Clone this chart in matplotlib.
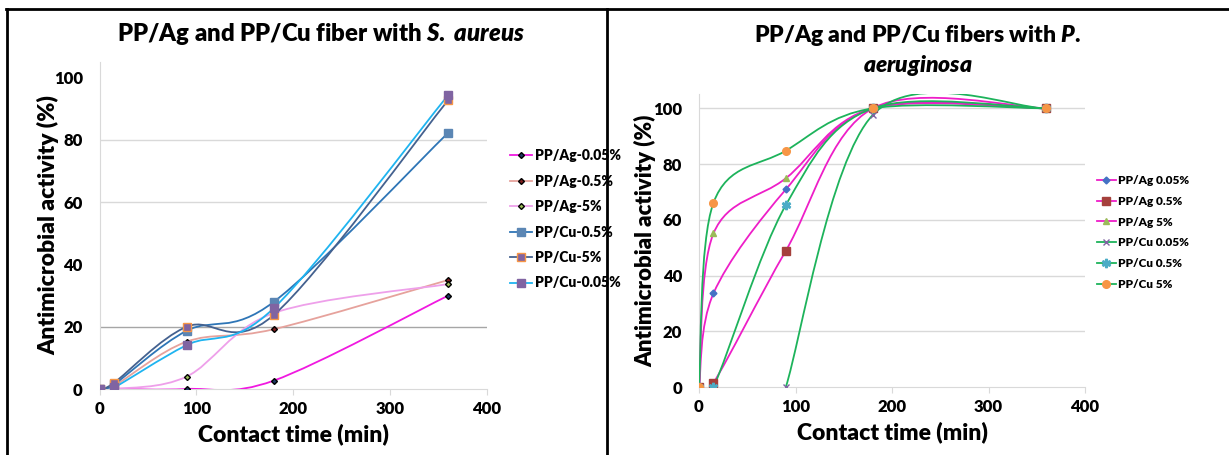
import matplotlib
matplotlib.use("Agg")
import matplotlib.pyplot as plt
import numpy as np
from matplotlib.path import Path
from matplotlib.patches import PathPatch, Rectangle
from matplotlib.lines import Line2D

plt.rcParams['font.family'] = ['Lato', 'DejaVu Sans']
plt.rcParams['font.weight'] = 'heavy'
plt.rcParams['axes.labelweight'] = 'heavy'
plt.rcParams['mathtext.fontset'] = 'custom'
plt.rcParams['mathtext.it'] = 'Lato:italic:heavy'
plt.rcParams['mathtext.rm'] = 'Lato:heavy'

# contact times (min)
times = [0, 15, 90, 180, 360]

# S. aureus
sa_labels = ['PP/Ag-0.05%', 'PP/Ag-0.5%', 'PP/Ag-5%', 'PP/Cu-0.5%', 'PP/Cu-5%', 'PP/Cu-0.05%']
sa_ag005 = [0, 0, 0, 2.7, 30]
sa_ag05 = [0, 1, 15.2, 19.2, 35]
sa_ag5 = [0, 0, 4, 24.4, 33.7]
sa_cu05 = [0, 1.5, 18.7, 28, 82.3]
sa_cu5 = [0, 2, 20, 23.8, 92.8]
sa_cu005 = [0, 0.5, 14.1, 26, 94.4]

# P. aeruginosa
pa_labels = ['PP/Ag 0.05%', 'PP/Ag 0.5%', 'PP/Ag 5%', 'PP/Cu 0.05%', 'PP/Cu 0.5%', 'PP/Cu 5%']
pa_ag005 = [0, 33.6, 70.9, 100, 100]
pa_ag05 = [0, 1.5, 48.9, 100, 100]
pa_ag5 = [0, 55.1, 74.9, 100, 100]
pa_cu005_t = [90, 180, 360]
pa_cu005 = [0, 97.6, 100]
pa_cu05 = [0, 0, 65.3, 100, 100]
pa_cu5 = [0, 66.1, 84.8, 100, 100]

W, H = 1229, 455


def smooth_path(x, y):
    # excel-style smoothed line: bezier segments, control points at 1/6 of neighbour span
    p = np.column_stack([x, y]).astype(float)
    verts = [p[0]]
    codes = [Path.MOVETO]
    n = len(p)
    for i in range(n - 1):
        p0 = p[i - 1] if i > 0 else p[i]
        p1 = p[i]
        p2 = p[i + 1]
        p3 = p[i + 2] if i + 2 < n else p[i + 1]
        verts += [p1 + (p2 - p0) / 6, p2 - (p3 - p1) / 6, p2]
        codes += [Path.CURVE4] * 3
    return Path(verts, codes)


def draw_series(ax, x, y, color, marker, mfc, mec, ms, label, lw=1.3):
    ax.add_patch(PathPatch(smooth_path(x, y), fill=False, edgecolor=color, lw=lw, zorder=3))
    ax.plot(x, y, ls='none', marker=marker, mfc=mfc, mec=mec, ms=ms, zorder=4)
    return Line2D([], [], color=color, lw=lw, marker=marker, mfc=mfc, mec=mec, ms=ms, label=label)


def style_axes(ax, grid_vals, grid_cols):
    ax.set_xlim(0, 400)
    ax.set_ylim(0, 105)
    ax.set_xticks([0, 100, 200, 300, 400])
    ax.set_yticks([0, 20, 40, 60, 80, 100])
    for s in ['top', 'right']:
        ax.spines[s].set_visible(False)
    ax.spines['left'].set_color('#D9D9D9')
    ax.spines['bottom'].set_color('#D9D9D9')
    for v, c in zip(grid_vals, grid_cols):
        ax.axhline(v, color=c, lw=1, zorder=1)
    ax.tick_params(axis='x', length=4, color='#D9D9D9', labelsize=12, pad=5)
    ax.tick_params(axis='y', length=0, labelsize=12, pad=12)
    ax.set_xlabel('Contact time (min)', fontsize=16.5, labelpad=4)


fig = plt.figure(figsize=(W / 100, H / 100), dpi=100)

# left panel
ax1 = fig.add_axes([99.5 / W, 66 / H, 387.5 / W, 327 / H])
style_axes(ax1, [20, 60, 80, 100], ['#A6A6A6', '#D9D9D9', '#D9D9D9', '#FFFFFF'])
ax1.set_ylabel('Antimicrobial activity (%)', fontsize=16.5, labelpad=-4)
h1 = []
h1.append(draw_series(ax1, times, sa_ag005, '#F019E0', 'D', '#1F3864', '#000000', 3, sa_labels[0]))
h1.append(draw_series(ax1, times, sa_ag05, '#E6A29C', 'D', '#7F1F1F', '#000000', 3, sa_labels[1]))
h1.append(draw_series(ax1, times, sa_ag5, '#EEA0EA', 'D', '#9BBB59', '#000000', 3, sa_labels[2]))
h1.append(draw_series(ax1, times, sa_cu05, '#2E75B6', 's', '#5B86B4', '#5B86B4', 6, sa_labels[3]))
h1.append(draw_series(ax1, times, sa_cu5, '#44618F', 's', '#8064A2', '#F79646', 6, sa_labels[4]))
h1.append(draw_series(ax1, times, sa_cu005, '#1FB4F0', 's', '#8064A2', '#8064A2', 6, sa_labels[5]))
fig.text(321 / W, 1 - 34 / H, r'PP/Ag and PP/Cu fiber with $\it{S.}$ $\it{aureus}$', ha='center', va='center',
         fontsize=17.2)
fig.legend(handles=h1, loc='upper left', bbox_to_anchor=(510 / W, 1 - 149 / H), frameon=False,
           fontsize=10, handlelength=1.6, handletextpad=0.2, labelspacing=0.9, borderpad=0, borderaxespad=0)

# right panel
ax2 = fig.add_axes([699 / W, 68 / H, 386 / W, 292.6 / H])
style_axes(ax2, [20, 40, 60, 80, 100], ['#D9D9D9'] * 5)
ax2.set_ylabel('Antimicrobial activity (%)', fontsize=16, labelpad=-2)
h2 = []
mag = '#EE1EC8'
grn = '#1DB35B'
h2.append(draw_series(ax2, times, pa_ag005, mag, 'D', '#4472C4', '#4472C4', 3.5, pa_labels[0]))
h2.append(draw_series(ax2, times, pa_ag05, mag, 's', '#A5403C', '#A5403C', 5.5, pa_labels[1]))
h2.append(draw_series(ax2, times, pa_ag5, mag, '^', '#9BBB59', '#9BBB59', 5, pa_labels[2]))
h2.append(draw_series(ax2, pa_cu005_t, pa_cu005, grn, 'x', '#8064A2', '#8064A2', 5, pa_labels[3]))
h2.append(draw_series(ax2, times, pa_cu05, grn, '$*$', '#4BACC6', '#4BACC6', 6, pa_labels[4]))
h2.append(draw_series(ax2, times, pa_cu5, grn, 'o', '#F79646', '#F79646', 5.5, pa_labels[5]))
fig.text(918 / W, 1 - 35 / H, r'PP/Ag and PP/Cu fibers with $\it{P.}$', ha='center', va='center', fontsize=16.5)
fig.text(918 / W, 1 - 66 / H, r'$\it{aeruginosa}$', ha='center', va='center', fontsize=16.5)
fig.legend(handles=h2, loc='upper left', bbox_to_anchor=(1097 / W, 1 - 175 / H), frameon=False,
           fontsize=8.5, handlelength=1.6, handletextpad=0.2, labelspacing=0.83, borderpad=0, borderaxespad=0)

# table borders
fig.patches.append(Rectangle((608 / W, 130 / H), 20 / W, 200 / H, transform=fig.transFigure,
                             facecolor='white', edgecolor='none', zorder=5))
for xs, ys in [([6 / W, 1], [1 - 9 / H, 1 - 9 / H]),
               ([7 / W, 7 / W], [0, 1 - 9 / H]),
               ([606.7 / W, 606.7 / W], [0, 1 - 9 / H])]:
    fig.lines.append(Line2D(xs, ys, transform=fig.transFigure, color='black', lw=2, zorder=6))

fig.savefig('out.png', dpi=100)
